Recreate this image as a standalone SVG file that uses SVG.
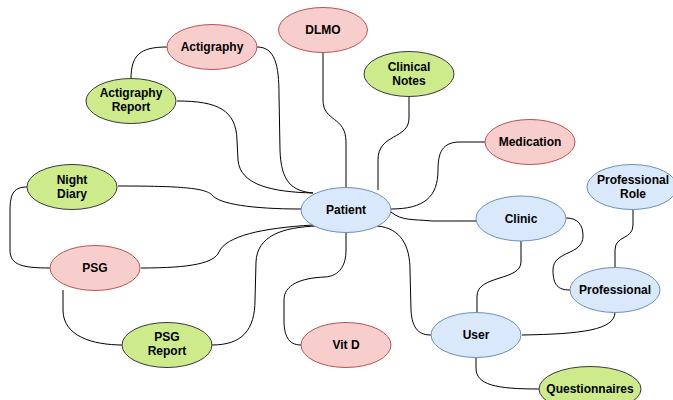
<svg xmlns="http://www.w3.org/2000/svg" width="673" height="400" viewBox="0 0 673 400">
<style>
.pink{fill:#f8cecc;stroke:#b85450;stroke-width:1}
.green{fill:#cdeb8b;stroke:#36393d;stroke-width:1}
.blue{fill:#dae8fc;stroke:#6c8ebf;stroke-width:1}
text{font-family:"Liberation Sans",Arial,sans-serif;font-size:12px;font-weight:bold;fill:#000;text-anchor:middle}
.edge{fill:none;stroke:#000;stroke-width:1}
</style>
<rect width="673" height="400" fill="#fff"/>
<g id="connectors">
<path class="edge" d="M131,79 C131,55 140,47 167,47"/>
<path class="edge" d="M257,47 C275,47 279,65 279,95 L280,150 C281,182 292,191 313,193"/>
<path class="edge" d="M177,101 C218,101 236,110 237,140 L238,160 C240,185 272,192 313,193"/>
<path class="edge" d="M323,53 L323,100 C323,122 346,116 346,142 L346,187"/>
<path class="edge" d="M409,97 L409,118 C409,140 378,133 378,160 L378,190"/>
<path class="edge" d="M485,142 L460,142 C442,142 438,153 438,170 C438,197 424,209 391,209"/>
<path class="edge" d="M391,212 C402,221 412,219 432,221 L476,221"/>
<path class="edge" d="M118,186 C182,186 205,188 212,195 C219,204 252,209 301,209"/>
<path class="edge" d="M141,268 C192,268 214,263 219,252 C226,236 262,228 313,225"/>
<path class="edge" d="M27,187 C12,187 10,196 10,212 L10,250 C10,265 22,268 50,268"/>
<path class="edge" d="M63,290 L63,310 C63,336 92,345 123,345"/>
<path class="edge" d="M212,345 C242,345 255,330 255,300 L256,262 C257,236 282,227 318,226"/>
<path class="edge" d="M301,345 C288,345 284,335 284,320 L284,300 C284,285 300,278 325,277 C340,276 346,265 346,250 L346,232"/>
<path class="edge" d="M377,226 C401,228 410,246 410,270 L411,310 C412,330 420,335 431,335"/>
<path class="edge" d="M477,312 L477,296 C477,275 521,281 521,262 L521,241"/>
<path class="edge" d="M522,335 C582,334 615,330 615,312"/>
<path class="edge" d="M566,218 C578,218 583,225 583,236 C583,256 553,250 553,270 C553,285 558,290 570,290"/>
<path class="edge" d="M633,209 L633,225 C633,240 615,235 615,250 L615,267"/>
<path class="edge" d="M476,358 L476,368 C476,385 496,389 539,389"/>
</g>
<g id="actigraphy"><ellipse class="pink" cx="212" cy="47" rx="45" ry="22.5"/><text x="212" y="51">Actigraphy</text></g>
<g id="actigraphy-report"><ellipse class="green" cx="131" cy="101" rx="45" ry="22.5"/><text x="131" y="97">Actigraphy</text><text x="131" y="111">Report</text></g>
<g id="dlmo"><ellipse class="pink" cx="323" cy="30" rx="44.5" ry="22.5"/><text x="323" y="34">DLMO</text></g>
<g id="clinical-notes"><ellipse class="green" cx="409" cy="74" rx="45" ry="22.5"/><text x="409" y="71">Clinical</text><text x="409" y="85">Notes</text></g>
<g id="medication"><ellipse class="pink" cx="530" cy="142" rx="45" ry="22.5"/><text x="530" y="146">Medication</text></g>
<g id="professional-role"><ellipse class="blue" cx="632" cy="187" rx="45" ry="22.5"/><text x="633" y="184">Professional</text><text x="633" y="198">Role</text></g>
<g id="clinic"><ellipse class="blue" cx="521" cy="218.5" rx="45" ry="22.5"/><text x="521" y="223">Clinic</text></g>
<g id="night-diary"><ellipse class="green" cx="72" cy="187" rx="45" ry="22.5"/><text x="72" y="184">Night</text><text x="72" y="198">Diary</text></g>
<g id="psg"><ellipse class="pink" cx="95" cy="268" rx="45" ry="22.5"/><text x="95" y="272">PSG</text></g>
<g id="patient"><ellipse class="blue" cx="346" cy="210" rx="45" ry="22.5"/><text x="346" y="214">Patient</text></g>
<g id="psg-report"><ellipse class="green" cx="167" cy="345" rx="45" ry="22.5"/><text x="167" y="341">PSG</text><text x="167" y="355">Report</text></g>
<g id="vit-d"><ellipse class="pink" cx="346" cy="345" rx="45" ry="22.5"/><text x="346" y="349">Vit D</text></g>
<g id="user"><ellipse class="blue" cx="476" cy="335" rx="45" ry="22.5"/><text x="476" y="339">User</text></g>
<g id="professional"><ellipse class="blue" cx="615" cy="290" rx="45" ry="22.5"/><text x="615" y="294">Professional</text></g>
<g id="questionnaires"><ellipse class="green" cx="590" cy="389" rx="51" ry="22.5"/><text x="590" y="393">Questionnaires</text></g>
</svg>
